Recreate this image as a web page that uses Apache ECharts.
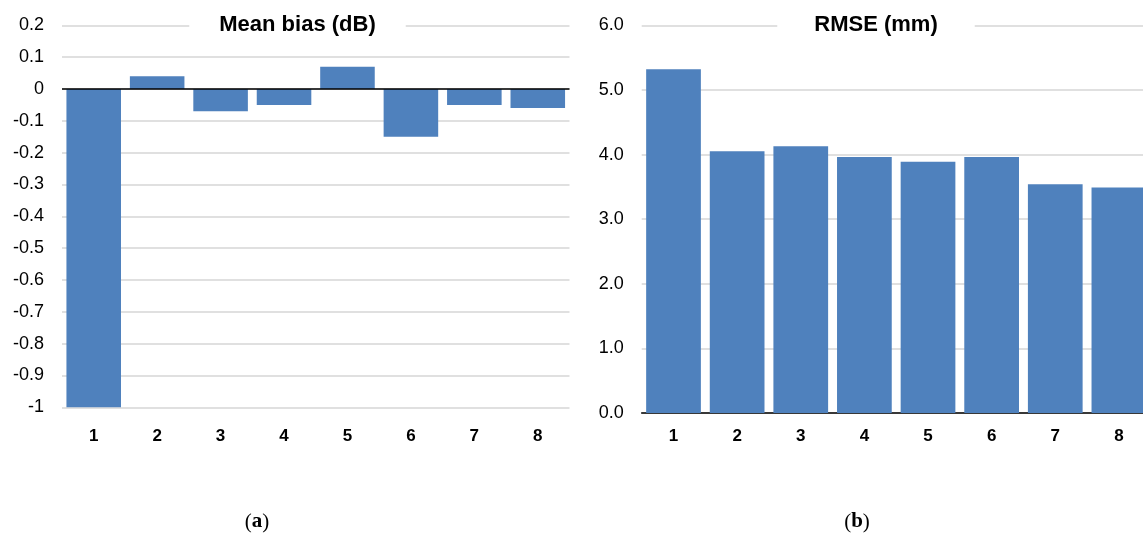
<!DOCTYPE html>
<html>
<head>
<meta charset="utf-8">
<script src="https://cdn.jsdelivr.net/npm/echarts@6/dist/echarts.min.js"></script>
<style>
  html, body { margin: 0; padding: 0; background: #fff; }
  #chart { width: 1143px; height: 538px; }
</style>
</head>
<body>
<div id="chart"></div>
<script>
// Station / configuration index on both panels
const categories = ['1', '2', '3', '4', '5', '6', '7', '8'];
// Panel (a): mean bias in dB
const meanBias = [-1.0, 0.04, -0.07, -0.05, 0.07, -0.15, -0.05, -0.06];
// Panel (b): RMSE in mm
const rmse = [5.32, 4.05, 4.13, 3.96, 3.89, 3.96, 3.54, 3.49];

const titles = ['Mean bias (dB)', 'RMSE (mm)'];
const captions = ['a', 'b'];

const FONT = '"Liberation Sans", Arial, sans-serif';
const SERIF = '"Liberation Serif", "DejaVu Serif", serif';
const BAR = '#4F81BD';
const GRID_LINE = '#d6d6d6';

const chart = echarts.init(document.getElementById('chart'), null, { renderer: 'canvas' });

const labelStyle = { color: '#000', fontFamily: FONT, fontSize: 18 };

chart.setOption({
  animation: false,
  backgroundColor: '#fff',
  grid: [
    { left: 62, top: 25.3, width: 507.5, height: 382, outerBoundsMode: 'none', containLabel: false },
    { left: 641.7, top: 25.3, width: 509, height: 387.7, outerBoundsMode: 'none', containLabel: false }
  ],
  xAxis: [
    {
      type: 'category', gridIndex: 0, data: categories,
      axisLine: { show: false }, axisTick: { show: false },
      axisLabel: Object.assign({}, labelStyle, { fontSize: 17, fontWeight: 'bold', margin: 21 })
    },
    {
      type: 'category', gridIndex: 1, data: categories,
      axisLine: { show: true, onZero: false, lineStyle: { color: '#000', width: 1.5 } },
      axisTick: { show: false },
      axisLabel: Object.assign({}, labelStyle, { fontSize: 17, fontWeight: 'bold', margin: 15 })
    }
  ],
  yAxis: [
    {
      type: 'value', gridIndex: 0, min: -1, max: 0.2, interval: 0.1,
      axisLine: { show: false }, axisTick: { show: false },
      axisLabel: Object.assign({}, labelStyle, { margin: 18 }),
      splitLine: { lineStyle: { color: GRID_LINE, width: 1.5 } }
    },
    {
      type: 'value', gridIndex: 1, min: 0, max: 6, interval: 1,
      axisLine: { show: false }, axisTick: { show: false },
      axisLabel: Object.assign({}, labelStyle, { margin: 18, formatter: v => v.toFixed(1) }),
      splitLine: { lineStyle: { color: GRID_LINE, width: 1.5 } }
    }
  ],
  series: [
    {
      type: 'bar', xAxisIndex: 0, yAxisIndex: 0, data: meanBias,
      barCategoryGap: '14%',
      itemStyle: { color: BAR },
      markLine: {
        silent: true, symbol: 'none', label: { show: false },
        lineStyle: { color: '#000', width: 1.5, type: 'solid' },
        data: [{ yAxis: 0 }]
      }
    },
    {
      type: 'bar', xAxisIndex: 1, yAxisIndex: 1, data: rmse,
      barCategoryGap: '14%',
      itemStyle: { color: BAR }
    }
  ],
  graphic: [
    {
      type: 'text', x: 297.5, y: 25.3, z: 100,
      style: {
        text: titles[0], fill: '#000', align: 'center', verticalAlign: 'middle',
        font: 'bold 22px ' + FONT, backgroundColor: '#fff', padding: [3, 30]
      }
    },
    {
      type: 'text', x: 876, y: 25.3, z: 100,
      style: {
        text: titles[1], fill: '#000', align: 'center', verticalAlign: 'middle',
        font: 'bold 22px ' + FONT, backgroundColor: '#fff', padding: [3, 37]
      }
    },
    {
      type: 'text', x: 257, y: 522, z: 100,
      style: {
        text: '({c|' + captions[0] + '})', fill: '#000', align: 'center', verticalAlign: 'middle',
        font: '21px ' + SERIF,
        rich: { c: { fontWeight: 'bold', fontSize: 21, fontFamily: SERIF } }
      }
    },
    {
      type: 'text', x: 857, y: 522, z: 100,
      style: {
        text: '({c|' + captions[1] + '})', fill: '#000', align: 'center', verticalAlign: 'middle',
        font: '21px ' + SERIF,
        rich: { c: { fontWeight: 'bold', fontSize: 21, fontFamily: SERIF } }
      }
    }
  ]
});
</script>
</body>
</html>
